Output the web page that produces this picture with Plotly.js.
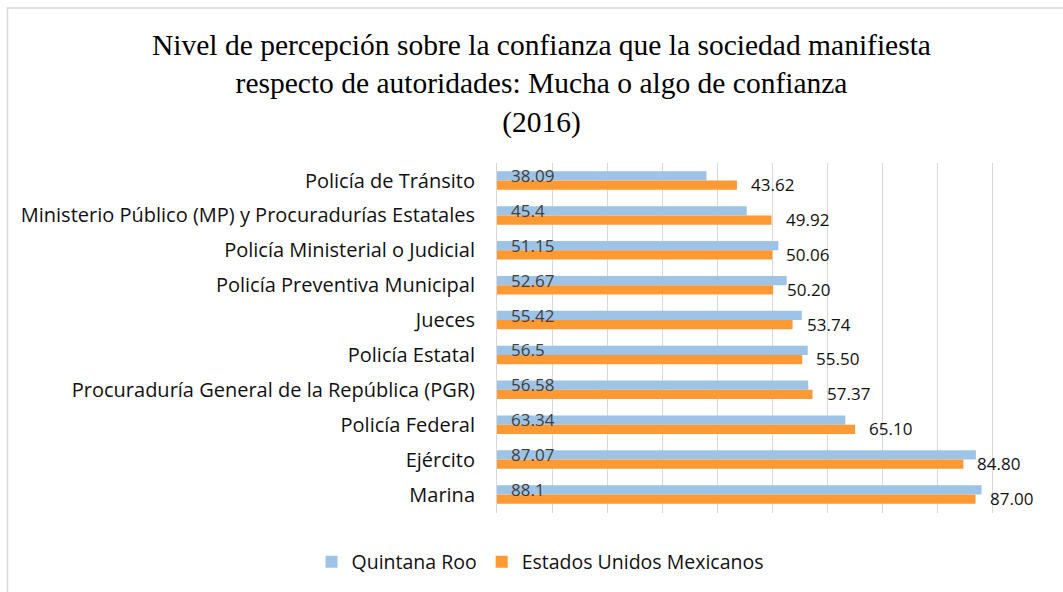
<!DOCTYPE html>
<html>
<head>
<meta charset="utf-8">
<script src="https://cdn.plot.ly/plotly-3.0.1.min.js"></script>
<style>
  html, body { margin: 0; padding: 0; background: #fff; }
  #chart { width: 1063px; height: 592px; }
</style>
</head>
<body>
<div id="chart"></div>
<script>
const categories = [
  "Policía de Tránsito",
  "Ministerio Público (MP) y Procuradurías Estatales",
  "Policía Ministerial o Judicial",
  "Policía Preventiva Municipal",
  "Jueces",
  "Policía Estatal",
  "Procuraduría General de la República (PGR)",
  "Policía Federal",
  "Ejército",
  "Marina"
];
const quintanaRoo = [38.09, 45.4, 51.15, 52.67, 55.42, 56.5, 56.58, 63.34, 87.07, 88.1];
const estadosUnidosMexicanos = [43.62, 49.92, 50.06, 50.20, 53.74, 55.50, 57.37, 65.10, 84.80, 87.00];
const seriesNames = ["Quintana Roo", "Estados Unidos Mexicanos"];
const titleText = "Nivel de percepción sobre la confianza que la sociedad manifiesta<br>respecto de autoridades: Mucha o algo de confianza<br>(2016)";

const labelFont = "Open Sans, Noto Sans, sans-serif";

const traces = [
  {
    type: "bar", orientation: "h", name: seriesNames[0],
    y: categories, x: quintanaRoo,
    marker: { color: "#9DC3E6", line: { width: 0 } },
    hoverinfo: "x+name"
  },
  {
    type: "bar", orientation: "h", name: seriesNames[1],
    y: categories, x: estadosUnidosMexicanos,
    marker: { color: "#FF9933", line: { width: 0 } },
    hoverinfo: "x+name"
  }
];

const annotations = [];
categories.forEach((c, i) => {
  annotations.push({
    x: 0, y: c, xref: "x", yref: "y",
    text: String(quintanaRoo[i]),
    showarrow: false, xanchor: "left", yanchor: "middle",
    xshift: 12, yshift: 5,
    font: { family: labelFont, size: 17, color: "#404040" }
  });
  annotations.push({
    x: estadosUnidosMexicanos[i], y: c, xref: "x", yref: "y",
    text: estadosUnidosMexicanos[i].toFixed(2),
    showarrow: false, xanchor: "left", yanchor: "middle",
    xshift: 12, yshift: -4,
    font: { family: labelFont, size: 17, color: "#111111" }
  });
});

const mL = 497, mR = 16, mT = 163, mB = 79;
const pw = 1063 - mL - mR, ph = 592 - mT - mB;
const px2x = p => (p - mL) / pw;
const py2y = p => (592 - mB - p) / ph;

const layout = {
  width: 1063, height: 592,
  margin: { l: mL, r: mR, t: mT, b: mB, pad: 0 },
  paper_bgcolor: "#ffffff", plot_bgcolor: "#ffffff",
  barmode: "group", bargap: 0.47, bargroupgap: 0,
  title: {
    text: titleText,
    font: { family: "Liberation Serif, Times New Roman, serif", size: 29.5, color: "#000000" },
    xref: "container", x: 541.5 / 1063, xanchor: "center",
    yref: "container", y: 1 - 55 / 592, yanchor: "top"
  },
  xaxis: {
    range: [0, 100], dtick: 10, tick0: 0,
    showgrid: true, gridcolor: "#d9d9d9", gridwidth: 1,
    showticklabels: false, ticks: "", zeroline: false, showline: false,
    fixedrange: true
  },
  yaxis: {
    autorange: "reversed", type: "category",
    showline: true, linecolor: "#d9d9d9", linewidth: 1,
    ticks: "", showgrid: false, zeroline: false,
    ticklabelstandoff: 17,
    tickfont: { family: labelFont, size: 20, color: "#111111" },
    fixedrange: true
  },
  showlegend: true,
  legend: {
    orientation: "h",
    xref: "container", yref: "container",
    x: 540 / 1063, xanchor: "center",
    y: 1 - 562 / 592, yanchor: "middle",
    font: { family: labelFont, size: 19.5, color: "#111111" },
    itemwidth: 30, traceorder: "normal"
  },
  annotations: annotations,
  shapes: [{
    type: "rect", xref: "paper", yref: "paper", layer: "below",
    x0: px2x(7.5), x1: px2x(1075), y0: py2y(600), y1: py2y(8),
    line: { color: "#d9d9d9", width: 1.5 }, fillcolor: "rgba(0,0,0,0)"
  }]
};

Plotly.newPlot("chart", traces, layout, { displayModeBar: false, staticPlot: true });
</script>
</body>
</html>
